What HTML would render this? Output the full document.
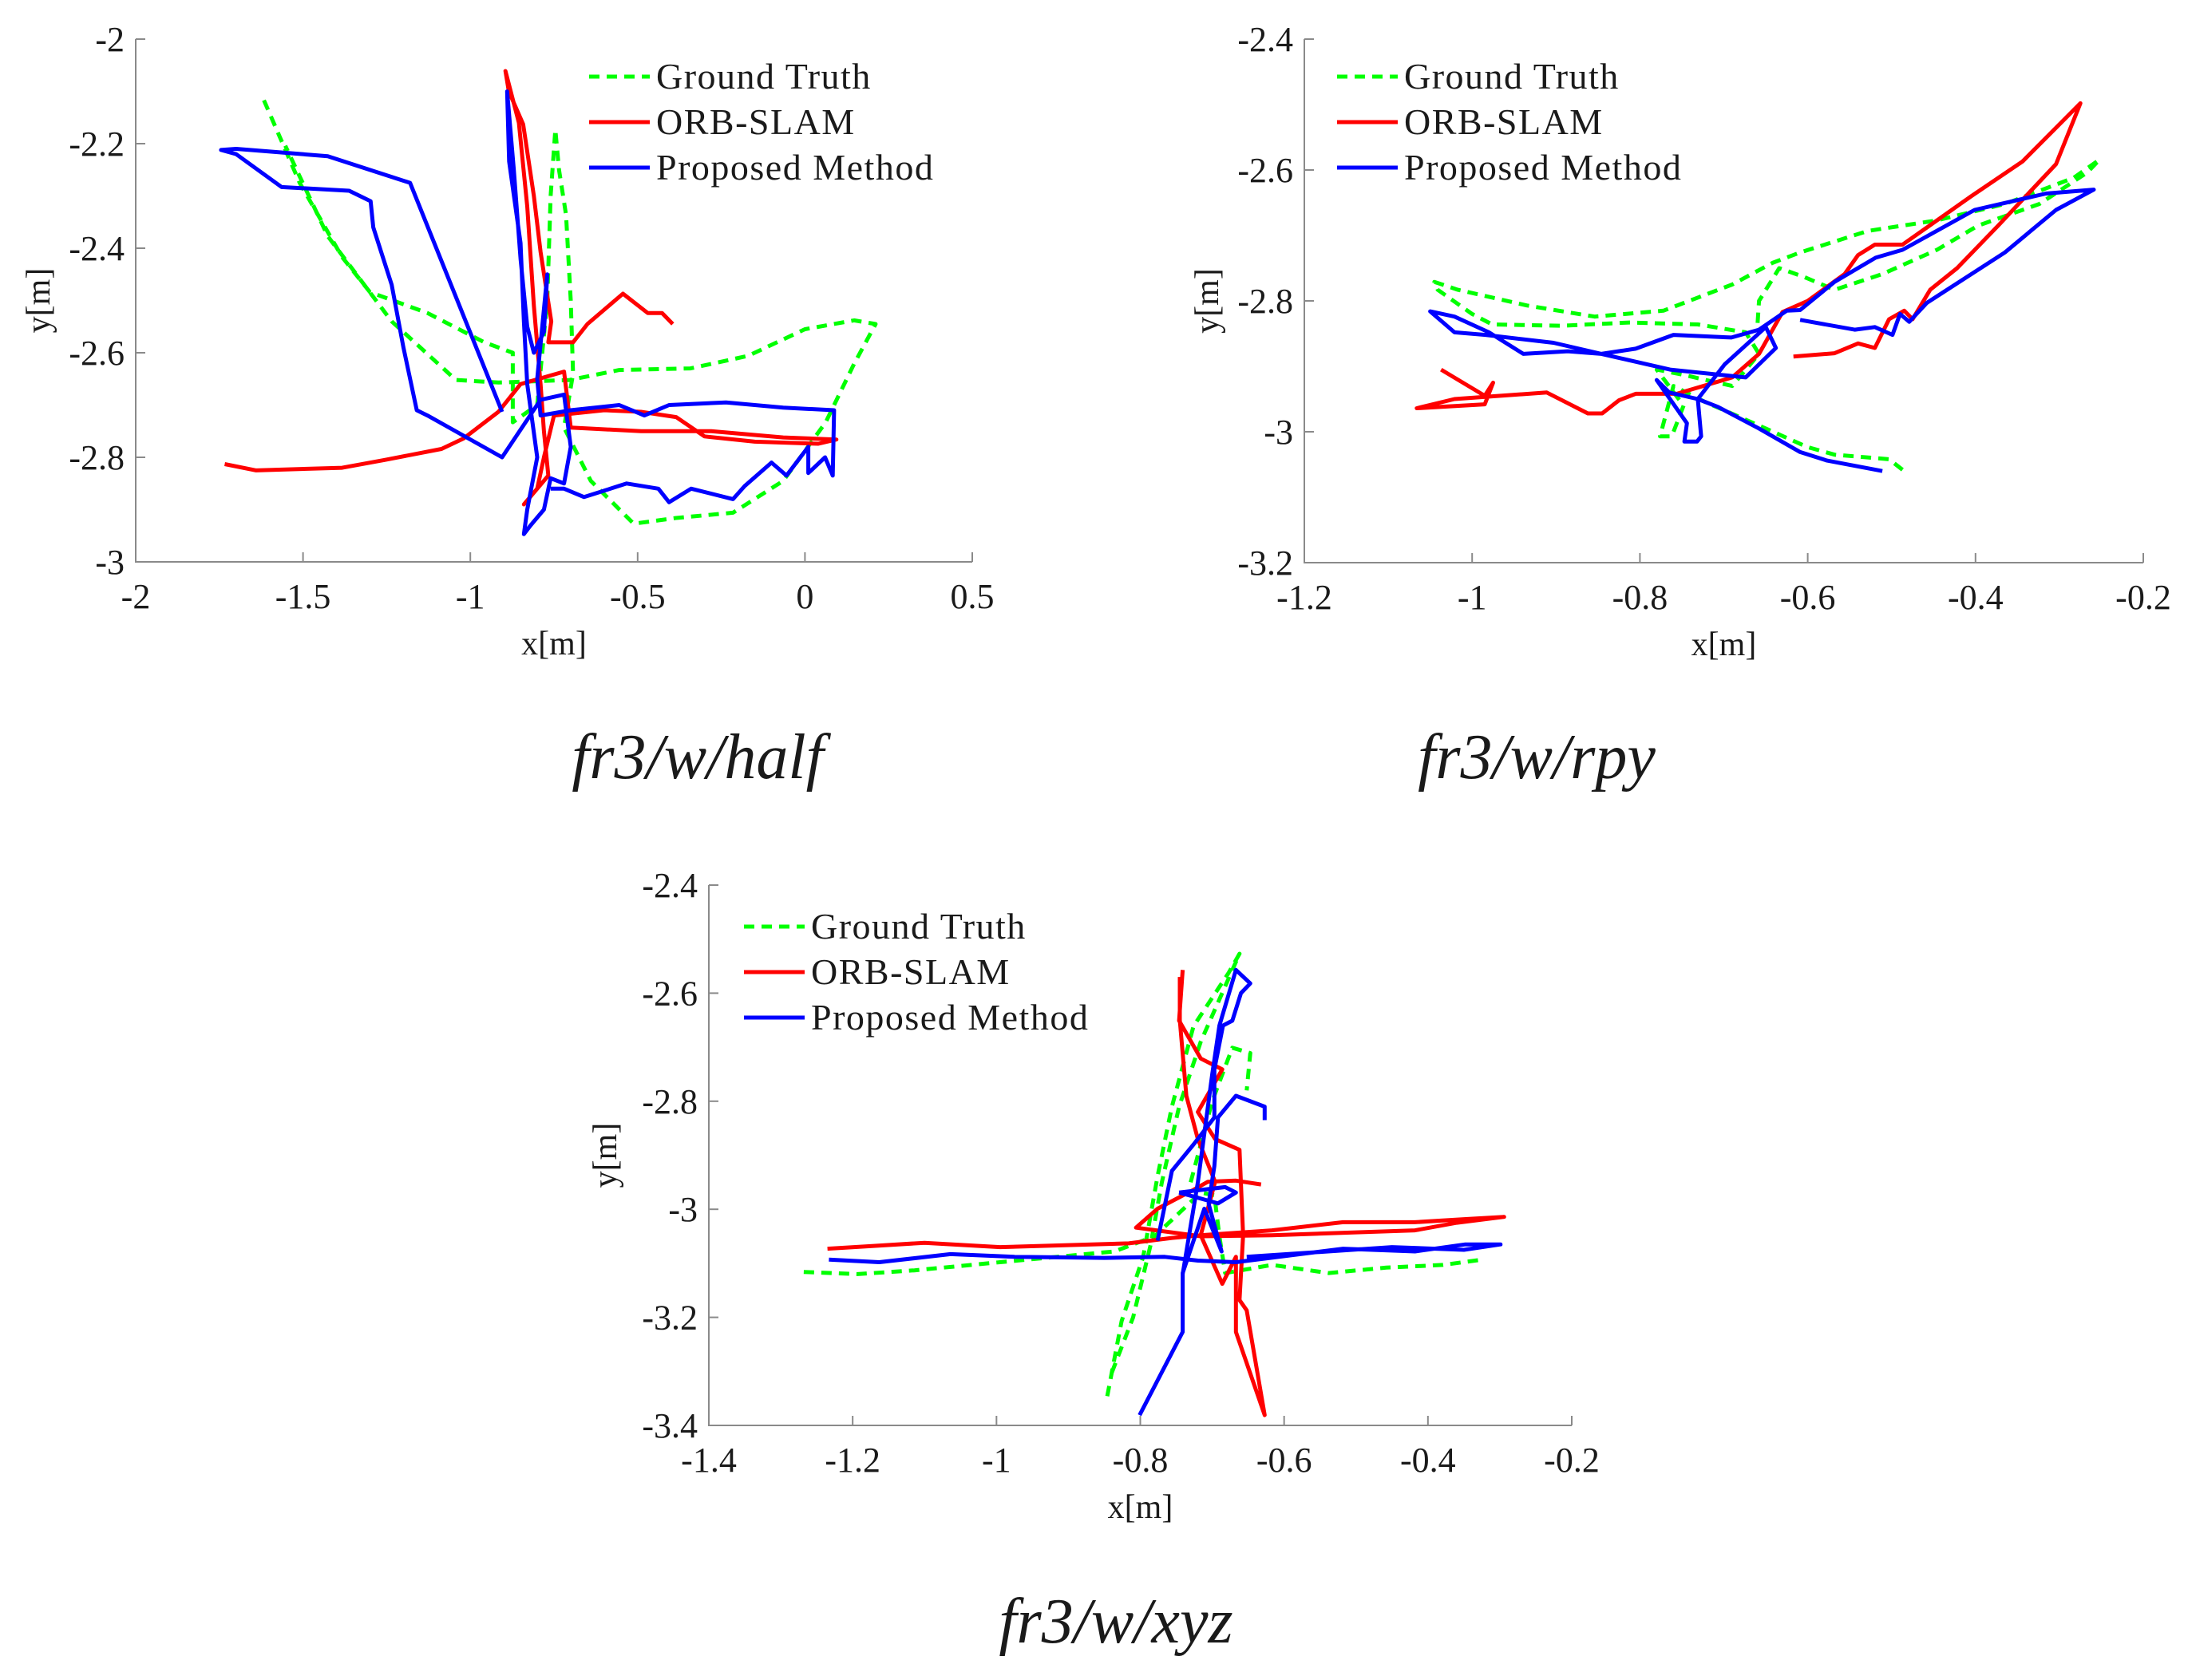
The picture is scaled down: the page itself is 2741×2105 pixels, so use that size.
<!DOCTYPE html>
<html><head><meta charset="utf-8">
<style>
html,body{margin:0;padding:0;background:#fff;}
svg{display:block;}
text{font-family:"Liberation Serif",serif;fill:#1a1a1a;}
</style></head>
<body>
<svg id="fig" width="2741" height="2105" viewBox="0 0 2741 2105" xmlns="http://www.w3.org/2000/svg"></svg>
<script>
// ---------- Panel 1: fr3/w/half ----------
const half_xTicks = [-2, -1.5, -1, -0.5, 0, 0.5];
const half_yTicks = [-2, -2.2, -2.4, -2.6, -2.8, -3];
const half_gt_x = [-1.617,-1.51,-1.383,-1.30,-1.128,-0.958,-0.873,-0.873,-0.80,-0.77,-0.76,-0.746,-0.735,-0.714,-0.70,-0.693,-0.72,-0.64,-0.512,-0.385,-0.215,-0.065,0.062,0.147,0.211,0.147,0.0,-0.17,-0.342,-0.555,-0.703,-0.916,-1.043,-1.235,-1.426,-1.553];
const half_gt_y = [-2.117,-2.275,-2.417,-2.484,-2.524,-2.58,-2.60,-2.733,-2.70,-2.50,-2.30,-2.173,-2.25,-2.336,-2.50,-2.64,-2.743,-2.845,-2.927,-2.916,-2.906,-2.845,-2.733,-2.621,-2.545,-2.538,-2.555,-2.606,-2.63,-2.633,-2.652,-2.657,-2.652,-2.54,-2.377,-2.204];
const half_orb_x = [-1.734,-1.64,-1.383,-1.256,-1.086,-1.02,-0.916,-0.85,-0.72,-0.70,-0.49,-0.28,-0.065,0.094,0.04,-0.15,-0.30,-0.385,-0.49,-0.60,-0.75,-0.78,-0.80,-0.84,-0.767,-0.78,-0.79,-0.81,-0.83,-0.855,-0.895,-0.885,-0.842,-0.81,-0.79,-0.758,-0.767,-0.693,-0.65,-0.544,-0.47,-0.427,-0.395];
const half_orb_y = [-2.813,-2.825,-2.82,-2.805,-2.784,-2.764,-2.713,-2.66,-2.636,-2.743,-2.75,-2.75,-2.762,-2.766,-2.774,-2.77,-2.76,-2.723,-2.713,-2.71,-2.72,-2.80,-2.86,-2.89,-2.835,-2.75,-2.66,-2.51,-2.32,-2.16,-2.061,-2.10,-2.163,-2.30,-2.407,-2.54,-2.58,-2.58,-2.545,-2.487,-2.524,-2.524,-2.545];
const half_prop_x = [-0.905,-1.18,-1.426,-1.70,-1.745,-1.70,-1.564,-1.362,-1.298,-1.29,-1.235,-1.2,-1.16,-1.128,-0.905,-0.79,-0.72,-0.70,-0.72,-0.76,-0.78,-0.82,-0.84,-0.83,-0.80,-0.83,-0.84,-0.85,-0.884,-0.89,-0.87,-0.85,-0.83,-0.81,-0.78,-0.77,-0.80,-0.79,-0.70,-0.555,-0.48,-0.406,-0.236,-0.065,0.087,0.083,0.06,0.01,0.01,-0.055,-0.1,-0.18,-0.215,-0.34,-0.406,-0.438,-0.533,-0.66,-0.72,-0.76];
const half_prop_y = [-2.713,-2.275,-2.224,-2.21,-2.212,-2.22,-2.283,-2.29,-2.31,-2.36,-2.47,-2.59,-2.71,-2.72,-2.80,-2.69,-2.68,-2.78,-2.85,-2.84,-2.90,-2.93,-2.947,-2.90,-2.80,-2.66,-2.54,-2.39,-2.234,-2.10,-2.25,-2.42,-2.55,-2.60,-2.56,-2.45,-2.65,-2.72,-2.71,-2.70,-2.72,-2.70,-2.695,-2.705,-2.71,-2.835,-2.80,-2.83,-2.78,-2.835,-2.81,-2.855,-2.88,-2.86,-2.886,-2.86,-2.85,-2.876,-2.86,-2.86];

// ---------- Panel 2: fr3/w/rpy ----------
const rpy_xTicks = [-1.2, -1, -0.8, -0.6, -0.4, -0.2];
const rpy_yTicks = [-2.4, -2.6, -2.8, -3, -3.2];
const rpy_gt_x = [-0.487,-0.503,-0.568,-0.601,-0.65,-0.723,-0.76,-0.776,-0.762,-0.748,-0.78,-0.748,-0.69,-0.658,-0.674,-0.731,-0.813,-0.894,-0.976,-1.0,-1.041,-1.045,-1.017,-0.935,-0.854,-0.772,-0.69,-0.642,-0.609,-0.528,-0.446,-0.365,-0.283,-0.252,-0.267,-0.324,-0.397,-0.446,-0.511,-0.568,-0.605,-0.634,-0.658,-0.66];
const rpy_gt_y = [-3.058,-3.042,-3.035,-3.023,-2.995,-2.954,-2.93,-3.007,-3.007,-2.96,-2.905,-2.913,-2.93,-2.881,-2.848,-2.836,-2.833,-2.838,-2.836,-2.82,-2.783,-2.771,-2.783,-2.807,-2.824,-2.815,-2.775,-2.742,-2.726,-2.693,-2.677,-2.652,-2.612,-2.584,-2.604,-2.652,-2.685,-2.722,-2.759,-2.783,-2.763,-2.75,-2.80,-2.84];
const rpy_orb_x = [-1.037,-0.985,-0.975,-0.985,-1.066,-1.021,-0.911,-0.862,-0.845,-0.825,-0.805,-0.756,-0.69,-0.658,-0.63,-0.60,-0.556,-0.54,-0.52,-0.487,-0.405,-0.344,-0.275,-0.304,-0.373,-0.422,-0.454,-0.475,-0.485,-0.503,-0.52,-0.54,-0.568,-0.617];
const rpy_orb_y = [-2.905,-2.945,-2.925,-2.958,-2.964,-2.95,-2.94,-2.972,-2.972,-2.952,-2.942,-2.942,-2.917,-2.881,-2.817,-2.80,-2.759,-2.73,-2.714,-2.714,-2.64,-2.587,-2.498,-2.591,-2.685,-2.75,-2.783,-2.828,-2.815,-2.828,-2.872,-2.865,-2.88,-2.885];
const rpy_prop_x = [-0.511,-0.577,-0.609,-0.658,-0.707,-0.731,-0.727,-0.732,-0.747,-0.744,-0.78,-0.765,-0.731,-0.699,-0.65,-0.638,-0.674,-0.764,-0.846,-0.903,-0.984,-1.021,-1.05,-1.021,-0.98,-0.939,-0.886,-0.846,-0.805,-0.76,-0.691,-0.658,-0.625,-0.609,-0.568,-0.519,-0.487,-0.401,-0.316,-0.259,-0.304,-0.365,-0.458,-0.479,-0.49,-0.499,-0.52,-0.544,-0.609];
const rpy_prop_y = [-3.06,-3.044,-3.031,-2.995,-2.962,-2.95,-3.007,-3.015,-3.015,-2.987,-2.921,-2.94,-2.95,-2.897,-2.84,-2.872,-2.917,-2.905,-2.881,-2.864,-2.852,-2.848,-2.816,-2.824,-2.848,-2.881,-2.877,-2.881,-2.873,-2.852,-2.856,-2.844,-2.815,-2.814,-2.771,-2.734,-2.722,-2.661,-2.636,-2.63,-2.661,-2.726,-2.803,-2.832,-2.82,-2.852,-2.84,-2.844,-2.829];

// ---------- Panel 3: fr3/w/xyz (null = break) ----------
const xyz_xTicks = [-1.4, -1.2, -1, -0.8, -0.6, -0.4, -0.2];
const xyz_yTicks = [-2.4, -2.6, -2.8, -3, -3.2, -3.4];
const xyz_gt_x = [-1.268,-1.193,-1.114,-0.995,-0.836,-0.78,-0.716,-0.697,-0.69,-0.682,-0.617,-0.538,-0.458,-0.379,-0.324,null,-0.846,-0.826,-0.796,-0.776,-0.756,-0.726,-0.677,-0.662,-0.716,-0.746,-0.77,-0.786,-0.81,-0.841,null,-0.73,-0.70,-0.672,-0.647,-0.652];
const xyz_gt_y = [-3.116,-3.12,-3.113,-3.098,-3.078,-3.05,-2.969,-2.974,-3.05,-3.118,-3.103,-3.118,-3.108,-3.103,-3.093,null,-3.346,-3.207,-3.088,-2.939,-2.81,-2.661,-2.562,-2.527,-2.69,-2.81,-2.95,-3.068,-3.2,-3.307,null,-2.95,-2.80,-2.701,-2.711,-2.78];
const xyz_orb_x = [-1.235,-1.173,-1.10,-0.995,-0.816,-0.756,-0.716,-0.617,-0.518,-0.418,-0.359,-0.294,-0.36,-0.418,-0.617,-0.716,-0.806,-0.776,-0.726,-0.706,-0.667,-0.632,null,-0.741,-0.746,-0.716,-0.686,-0.72,-0.696,-0.662,-0.657,-0.662,-0.652,-0.627,-0.667,-0.667,-0.686,-0.716,-0.696,-0.72,-0.736,-0.745,-0.745];
const xyz_orb_y = [-3.073,-3.068,-3.062,-3.07,-3.063,-3.053,-3.048,-3.039,-3.024,-3.024,-3.019,-3.014,-3.025,-3.039,-3.048,-3.05,-3.034,-2.999,-2.964,-2.949,-2.947,-2.954,null,-2.557,-2.651,-2.721,-2.741,-2.82,-2.87,-2.89,-3.048,-3.168,-3.187,-3.381,-3.227,-3.088,-3.138,-3.048,-2.949,-2.87,-2.79,-2.65,-2.57];
const xyz_prop_x = [-1.233,-1.163,-1.064,-0.975,-0.85,-0.766,-0.72,-0.667,-0.518,-0.418,-0.348,-0.299,-0.35,-0.45,-0.652,null,-0.801,-0.741,-0.741,-0.711,-0.687,-0.705,-0.697,-0.692,-0.667,-0.627,-0.627,null,-0.776,-0.756,-0.726,-0.697,-0.697,-0.685,-0.672,-0.66,-0.647,-0.667,-0.69,-0.70,-0.71,-0.72,-0.741,-0.741,-0.801,null,-0.746,-0.682,-0.667,-0.692,-0.746];
const xyz_prop_y = [-3.093,-3.098,-3.083,-3.088,-3.09,-3.088,-3.095,-3.098,-3.073,-3.078,-3.065,-3.065,-3.075,-3.07,-3.088,null,-3.381,-3.227,-3.118,-2.999,-3.078,-2.99,-2.92,-2.83,-2.79,-2.81,-2.835,null,-3.058,-2.929,-2.88,-2.83,-2.741,-2.66,-2.651,-2.60,-2.582,-2.557,-2.66,-2.75,-2.85,-2.95,-3.12,-3.227,-3.381,null,-2.969,-2.959,-2.969,-2.989,-2.969];

const NS = 'http://www.w3.org/2000/svg';
const svg = document.getElementById('fig');
function mk(tag, attrs, parent){
  const e = document.createElementNS(NS, tag);
  for (const k in attrs) e.setAttribute(k, attrs[k]);
  (parent||svg).appendChild(e);
  return e;
}
function fmt(v){ return String(v); }

function panel(cfg){
  const g = mk('g', {});
  
  
  const sx = v => cfg.L + (v - cfg.xmin) / (cfg.xmax - cfg.xmin) * (cfg.R - cfg.L);
  const sy = v => cfg.B - (v - cfg.ymin) / (cfg.ymax - cfg.ymin) * (cfg.B - cfg.T);

  const series = [
    {xs: cfg.gt[0], ys: cfg.gt[1], color: '#00ff00', dash: '13 9', nm: 'ground-truth-line'},
    {xs: cfg.orb[0], ys: cfg.orb[1], color: '#ff0000', dash: null, nm: 'orb-slam-line'},
    {xs: cfg.prop[0], ys: cfg.prop[1], color: '#0000ff', dash: null, nm: 'proposed-method-line'}
  ];
  series.forEach(s => {
    let d = '', pen = false;
    for (let i = 0; i < s.xs.length; i++){
      if (s.xs[i] === null){ pen = false; continue; }
      d += (pen ? 'L' : 'M') + sx(s.xs[i]).toFixed(1) + ',' + sy(s.ys[i]).toFixed(1) + ' ';
      pen = true;
    }
    const p = mk('path', {d: d, fill: 'none', stroke: s.color, 'stroke-width': 5, 'stroke-linejoin': 'round', 'stroke-linecap': 'butt'}, g);
    if (s.dash) p.setAttribute('stroke-dasharray', s.dash);
    
    
  });

  const ax = mk('path', {d: `M${cfg.L},${cfg.T} L${cfg.L},${cfg.B} L${cfg.R},${cfg.B}`, fill: 'none', stroke: '#8a8a8a', 'stroke-width': 2}, g);
  
  
  cfg.xTicks.forEach(v => {
    const x = sx(v);
    mk('line', {x1: x, y1: cfg.B, x2: x, y2: cfg.B - 12, stroke: '#8a8a8a', 'stroke-width': 2}, g);
    const t = mk('text', {x: x, y: cfg.B + 58, 'font-size': 44, 'text-anchor': 'middle'}, g);
    t.textContent = fmt(v);
    
    
  });
  cfg.yTicks.forEach(v => {
    const y = sy(v);
    mk('line', {x1: cfg.L, y1: y, x2: cfg.L + 12, y2: y, stroke: '#8a8a8a', 'stroke-width': 2}, g);
    const t = mk('text', {x: cfg.L - 14, y: y + 15, 'font-size': 44, 'text-anchor': 'end'}, g);
    t.textContent = fmt(v);
    
    
  });
  const xl = mk('text', {x: (cfg.L + cfg.R) / 2, y: cfg.B + 116, 'font-size': 42, 'text-anchor': 'middle'}, g);
  xl.textContent = 'x[m]';
  
  
  const yc = (cfg.T + cfg.B) / 2;
  const yl = mk('text', {x: cfg.ylx, y: yc, 'font-size': 42, 'text-anchor': 'middle', transform: `rotate(-90 ${cfg.ylx} ${yc})`}, g);
  yl.textContent = 'y[m]';
  
  

  const lg = mk('g', {}, g);
  
  
  const labels = ['Ground Truth', 'ORB-SLAM', 'Proposed Method'];
  labels.forEach((lab, i) => {
    const y = cfg.legY + i * 57;
    const ln = mk('line', {x1: cfg.legX, y1: y, x2: cfg.legX + 76, y2: y, stroke: series[i].color, 'stroke-width': 5}, lg);
    if (series[i].dash) ln.setAttribute('stroke-dasharray', '13 9');
    
    
    const t = mk('text', {x: cfg.legX + 84, y: y + 15, 'font-size': 46, 'letter-spacing': 1.5}, lg);
    t.textContent = lab;
    
    
  });

  const c = mk('text', {x: cfg.capX, y: cfg.capY, 'font-size': 80, 'font-style': 'italic', 'text-anchor': 'middle'}, g);
  c.textContent = cfg.caption;
  
  
}

panel({name: 'half', L: 170, R: 1218, T: 49, B: 704, xmin: -2, xmax: 0.5, ymin: -3, ymax: -2,
  xTicks: half_xTicks, yTicks: half_yTicks, gt: [half_gt_x, half_gt_y], orb: [half_orb_x, half_orb_y], prop: [half_prop_x, half_prop_y],
  ylx: 62, legX: 738, legY: 96, capX: 874, capY: 975, caption: 'fr3/w/half'});
panel({name: 'rpy', L: 1634, R: 2685, T: 49, B: 705, xmin: -1.2, xmax: -0.2, ymin: -3.2, ymax: -2.4,
  xTicks: rpy_xTicks, yTicks: rpy_yTicks, gt: [rpy_gt_x, rpy_gt_y], orb: [rpy_orb_x, rpy_orb_y], prop: [rpy_prop_x, rpy_prop_y],
  ylx: 1526, legX: 1675, legY: 96, capX: 1925, capY: 975, caption: 'fr3/w/rpy'});
panel({name: 'xyz', L: 888, R: 1969, T: 1109, B: 1786, xmin: -1.4, xmax: -0.2, ymin: -3.4, ymax: -2.4,
  xTicks: xyz_xTicks, yTicks: xyz_yTicks, gt: [xyz_gt_x, xyz_gt_y], orb: [xyz_orb_x, xyz_orb_y], prop: [xyz_prop_x, xyz_prop_y],
  ylx: 772, legX: 932, legY: 1161, capX: 1398, capY: 2058, caption: 'fr3/w/xyz'});
</script>
</body></html>
